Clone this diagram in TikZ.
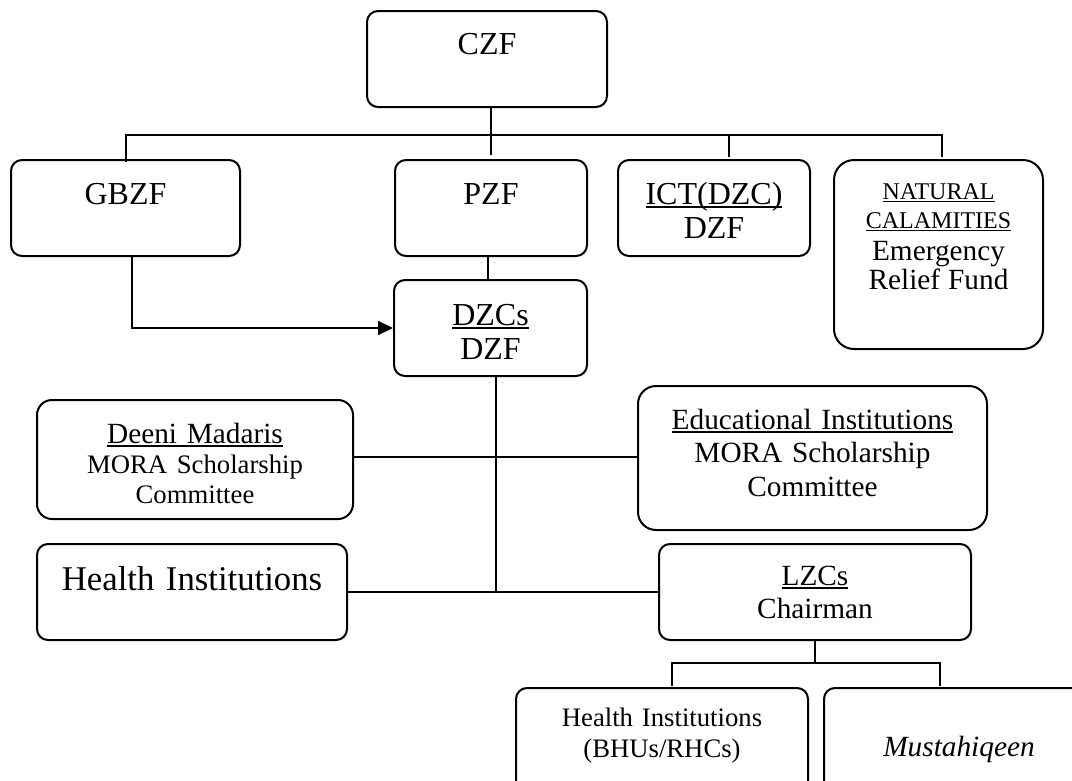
\documentclass[tikz,border=0pt]{standalone}
\usepackage{fontspec}
\setmainfont{Liberation Serif}
\usetikzlibrary{arrows.meta}

\newsavebox\ulsave
\newcommand\undl[1]{\leavevmode\sbox\ulsave{#1}\rlap{\rule[-0.13em]{\wd\ulsave}{0.06em}}\usebox\ulsave}
\newcommand\fsbig{\fontsize{32}{34}\selectfont}
\newcommand\fsmid{\fontsize{29.3}{33}\selectfont}

\begin{document}
\begin{tikzpicture}[x=1pt, y=-1pt, line width=2pt,
  >={Triangle[length=15pt, width=14pt]},
  box/.style={draw, rounded corners=11pt, anchor=north west, inner sep=0pt, align=center},
  boxsize/.style n args={3}{text width=#1pt, text height=#2pt, text depth=#3pt}]
  \useasboundingbox (0,0) rectangle (1072,780);

  \node (czf) at (366,10) [box, boxsize={240}{43}{53}, font=\fsbig] {CZF};
  \node (gbzf) at (10,159) [box, boxsize={229}{44}{52}, font=\fsbig] {GBZF};
  \node (pzf) at (394,159) [box, boxsize={192}{44}{52}, font=\fsbig] {PZF};
  \node (ict) at (617,159) [box, boxsize={192}{44}{52}, font=\fsbig] {\undl{ICT(DZC)}\\DZF};
  \node (natural) at (833,159) [box, rounded corners=20pt, boxsize={209}{39}{150},
    font=\fontsize{24}{29}\selectfont]
    {\undl{NATURAL}\\\undl{CALAMITIES}\par
     \fontsize{29.3}{32.5}\selectfont Emergency\\Relief Fund};
  \node (dzcs) at (393,279) [box, boxsize={193}{45}{51}, font=\fsbig] {\undl{DZCs}\\DZF};

  \node (deeni) at (36,399) [box, rounded corners=15pt, boxsize={316}{43}{76}, font=\fontsize{29.3}{30}\selectfont]
    {\undl{Deeni Madaris}\par
     \fontsize{26.7}{30}\selectfont MORA Scholarship\\Committee};
  \node (edu) at (637,385) [box, rounded corners=18pt, boxsize={349}{43}{101},
    font=\fontsize{29.3}{33.5}\selectfont]
    {\undl{Educational Institutions}\\MORA Scholarship\\Committee};
  \node (health) at (36,543) [box, boxsize={310}{46}{50}, font=\fontsize{34.7}{38}\selectfont]
    {Health Institutions};
  \node (lzcs) at (658,543) [box, boxsize={312}{41}{55}, font=\fsmid] {\undl{LZCs}\\Chairman};

  \node (bhu) at (515,687) [box, boxsize={292}{38}{72}, font=\fontsize{26.7}{31.7}\selectfont]
    {Health Institutions\\(BHUs/RHCs)};
  \node (must) at (823,687) [box, boxsize={270}{68}{42}, font=\fsmid\itshape] {Mustahiqeen};

  \coordinate (tbus) at (0,135);
  \coordinate (lbus) at (0,663);

  \draw (pzf.north |- czf.south) -- ([yshift=4pt]pzf.north);
  \draw ([yshift=-3pt]gbzf.north) -- (gbzf.north |- tbus)
    -- ([xshift=3pt]natural.north |- tbus) -- ([xshift=3pt, yshift=2pt]natural.north);
  \draw ([xshift=15pt]ict.north |- tbus) -- ([xshift=15pt, yshift=2pt]ict.north);
  \draw ([xshift=-3pt]pzf.south) -- ([xshift=-3pt]pzf.south |- dzcs.north);
  \draw [->] ([xshift=6pt]gbzf.south) |- (dzcs.west);

  \draw ([xshift=5pt]dzcs.south) -- ([xshift=5pt]dzcs.south |- health.east);
  \draw ([yshift=3pt]deeni.east) -- ([yshift=3pt]deeni.east -| edu.west);
  \draw (health.east) -- (health.east -| lzcs.west);

  \draw (lzcs.south) -- (lzcs.south |- lbus);
  \draw ([xshift=10pt, yshift=1pt]bhu.north) -- ([xshift=10pt]bhu.north |- lbus)
    -- ([xshift=-19pt]must.north |- lbus) -- ([xshift=-19pt, yshift=1pt]must.north);
\end{tikzpicture}
\end{document}
